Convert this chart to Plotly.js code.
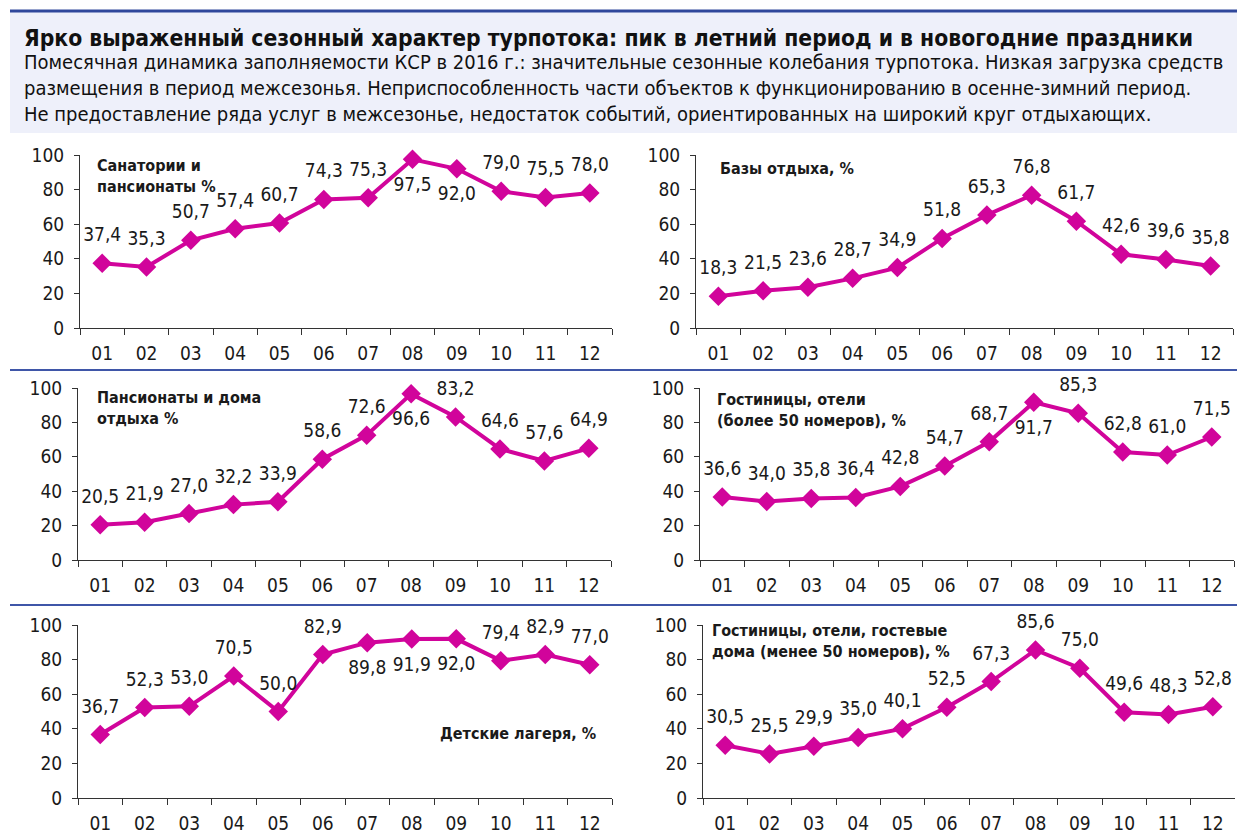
<!DOCTYPE html>
<html>
<head>
<meta charset="utf-8">
<script src="https://cdn.plot.ly/plotly-3.0.1.min.js"></script>
<style>html,body{margin:0;padding:0;background:#fff;}#chart{width:1237px;height:835px;}</style>
</head>
<body>
<div id="chart"></div>
<script>
// ---- data ----
var months = ['01','02','03','04','05','06','07','08','09','10','11','12'];
var sanatorii  = [37.4,35.3,50.7,57.4,60.7,74.3,75.3,97.5,92.0,79.0,75.5,78.0];
var bazy       = [18.3,21.5,23.6,28.7,34.9,51.8,65.3,76.8,61.7,42.6,39.6,35.8];
var pansionaty = [20.5,21.9,27.0,32.2,33.9,58.6,72.6,96.6,83.2,64.6,57.6,64.9];
var gostBig    = [36.6,34.0,35.8,36.4,42.8,54.7,68.7,91.7,85.3,62.8,61.0,71.5];
var lagerya    = [36.7,52.3,53.0,70.5,50.0,82.9,89.8,91.9,92.0,79.4,82.9,77.0];
var gostSmall  = [30.5,25.5,29.9,35.0,40.1,52.5,67.3,85.6,75.0,49.6,48.3,52.8];
var yTicks = [0,20,40,60,80,100];

var titleMain = 'Ярко выраженный сезонный характер турпотока: пик в летний период и в новогодние праздники';
var subText = 'Помесячная динамика заполняемости КСР в 2016 г.: значительные сезонные колебания турпотока. Низкая загрузка средств<br>размещения в период межсезонья. Неприспособленность части объектов к функционированию в осенне-зимний период.<br>Не предоставление ряда услуг в межсезонье, недостаток событий, ориентированных на широкий круг отдыхающих.';

// ---- layout helpers ----
var W = 1237, H = 835;
var FONT = '"DejaVu Sans Condensed", "Liberation Sans Narrow", "Arial Narrow", Arial, sans-serif';
var MAG = '#D1049B';
function px(x){return x/W;}
function py(y){return 1 - y/H;}

var panels = [
  {data: sanatorii,  below:[7,8], x0:80,  x1:612,  yTop:155, yBot:328,
   label:'Санатории и<br>пансионаты %', lx:95, ly:176, la:'left'},
  {data: bazy,       below:[],    x0:696, x1:1233, yTop:155, yBot:328,
   label:'Базы отдыха, %', lx:718, ly:168, la:'left'},
  {data: pansionaty, below:[7],   x0:78,  x1:611,  yTop:388, yBot:560,
   label:'Пансионаты и дома<br>отдыха %', lx:95, ly:408, la:'left'},
  {data: gostBig,    below:[7],   x0:700, x1:1234, yTop:388, yBot:560,
   label:'Гостиницы, отели<br>(более 50 номеров), %', lx:715, ly:410, la:'left'},
  {data: lagerya,    below:[6,7,8], x0:78, x1:612, yTop:625, yBot:798,
   label:'Детские лагеря, %', lx:598, ly:733, la:'right'},
  {data: gostSmall,  below:[],    x0:703, x1:1235, yTop:625, yBot:798,
   label:'Гостиницы, отели, гостевые<br>дома (менее 50 номеров), %', lx:710, ly:641, la:'left'}
];

var traces = [];
var layout = {
  width: W, height: H,
  margin: {l:0, r:0, t:0, b:0},
  paper_bgcolor: '#ffffff',
  plot_bgcolor: 'rgba(0,0,0,0)',
  showlegend: false,
  font: {family: FONT, color: '#1a1a1a', size: 19},
  shapes: [], annotations: []
};

panels.forEach(function(p, i){
  var n = i + 1;
  var xa = 'xaxis' + (n === 1 ? '' : n), ya = 'yaxis' + (n === 1 ? '' : n);
  var xr = 'x' + (n === 1 ? '' : n), yr = 'y' + (n === 1 ? '' : n);
  // line + markers
  traces.push({
    type: 'scatter', mode: 'lines+markers',
    x: months, y: p.data, xaxis: xr, yaxis: yr,
    line: {color: MAG, width: 4},
    marker: {symbol: 'diamond', size: 15, color: MAG},
    cliponaxis: false, hoverinfo: 'skip'
  });
  // value labels (offset from the points by an invisible, larger marker)
  traces.push({
    type: 'scatter', mode: 'markers+text',
    x: months, y: p.data, xaxis: xr, yaxis: yr,
    text: p.data.map(function(v){return v.toFixed(1).replace('.', ',');}),
    textposition: p.data.map(function(v, k){return p.below.indexOf(k) >= 0 ? 'bottom center' : 'top center';}),
    textfont: {family: FONT, size: 19, color: '#1a1a1a'},
    marker: {size: 26, opacity: 0, color: MAG},
    cliponaxis: false, hoverinfo: 'skip'
  });
  layout[xa] = {
    domain: [px(p.x0), px(p.x1)], anchor: yr, type: 'category', range: [-0.5, 11.5],
    tickson: 'boundaries', ticks: 'outside', ticklen: 6, tickcolor: '#333', tickwidth: 1,
    showline: true, linecolor: '#333', linewidth: 1, showgrid: false, zeroline: false,
    tickfont: {family: FONT, size: 19, color: '#1a1a1a'}, ticklabelstandoff: 8,
    fixedrange: true
  };
  layout[ya] = {
    domain: [py(p.yBot), py(p.yTop)], anchor: xr, range: [0, 100],
    tickvals: yTicks, ticks: 'outside', ticklen: 5, tickcolor: '#333', tickwidth: 1,
    showline: true, linecolor: '#333', linewidth: 1, showgrid: false, zeroline: false,
    tickfont: {family: FONT, size: 19, color: '#1a1a1a'}, ticklabelstandoff: 6,
    fixedrange: true
  };
  layout.annotations.push({
    xref: 'paper', yref: 'paper', x: px(p.lx), y: py(p.ly),
    xanchor: p.la, yanchor: 'middle', align: p.la, showarrow: false,
    text: '<b>' + p.label + '</b>',
    font: {family: FONT, size: 16, color: '#1a1a1a'}
  });
});

// header background and lines
layout.shapes.push(
  {type:'rect', xref:'paper', yref:'paper', x0:px(10), x1:1, y0:py(133), y1:py(12),
   fillcolor:'#EEF0FA', line:{width:0}, layer:'below'},
  {type:'line', xref:'paper', yref:'paper', x0:px(10), x1:1, y0:py(11), y1:py(11),
   line:{color:'#2F479B', width:3}},
  {type:'line', xref:'paper', yref:'paper', x0:px(10), x1:1, y0:py(370), y1:py(370),
   line:{color:'#3F56A8', width:2}},
  {type:'line', xref:'paper', yref:'paper', x0:px(10), x1:1, y0:py(605), y1:py(605),
   line:{color:'#3F56A8', width:2}}
);
layout.annotations.push(
  {xref:'paper', yref:'paper', x:px(22), y:py(38), xanchor:'left', yanchor:'middle',
   showarrow:false, text:'<b>' + titleMain + '</b>', font:{family:FONT, size:22.7, color:'#111'}},
  {xref:'paper', yref:'paper', x:px(22), y:py(88), xanchor:'left', yanchor:'middle', align:'left',
   showarrow:false, text:subText, font:{family:FONT, size:20, color:'#111'}}
);

Plotly.newPlot('chart', traces, layout, {displayModeBar:false, staticPlot:true});
</script>
</body>
</html>
